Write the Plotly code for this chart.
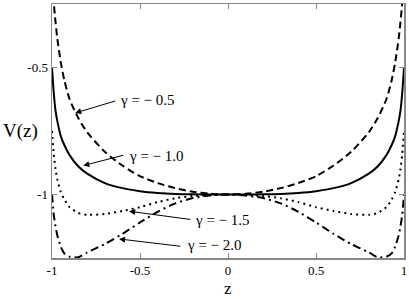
import plotly.graph_objects as go

# z grid
z = [-1, -0.99, -0.98, -0.97, -0.95, -0.93, -0.9, -0.85, -0.8, -0.7, -0.6, -0.5,
     -0.4, -0.3, -0.2, -0.1, 0, 0.1, 0.2, 0.3, 0.4, 0.5, 0.6, 0.7, 0.8, 0.85,
     0.9, 0.93, 0.95, 0.97, 0.98, 0.99, 1]

# gamma = -0.5 (dashed)
v_g05 = [-0.13, -0.245, -0.32, -0.385, -0.48, -0.55, -0.625, -0.70, -0.755, -0.832, -0.886, -0.928,
         -0.955, -0.975, -0.989, -0.997, -1.0, -0.997, -0.989, -0.975, -0.955, -0.928, -0.886, -0.832,
         -0.755, -0.70, -0.625, -0.55, -0.48, -0.385, -0.32, -0.245, -0.13]

# gamma = -1.0 (solid)
v_g10 = [-0.5, -0.60, -0.67, -0.71, -0.77, -0.805, -0.845, -0.89, -0.918, -0.955, -0.975, -0.987,
         -0.994, -0.998, -0.9995, -1.0, -1.0, -1.0, -0.9995, -0.998, -0.994, -0.987, -0.975, -0.955,
         -0.918, -0.89, -0.845, -0.805, -0.77, -0.71, -0.67, -0.60, -0.5]

# gamma = -1.5 (dotted)
v_g15 = [-0.75, -0.84, -0.90, -0.94, -0.99, -1.02, -1.05, -1.073, -1.08, -1.077, -1.065, -1.05,
         -1.03, -1.015, -1.006, -1.002, -1.0, -1.002, -1.006, -1.015, -1.03, -1.05, -1.065, -1.077,
         -1.08, -1.073, -1.05, -1.02, -0.99, -0.94, -0.90, -0.84, -0.75]

# gamma = -2.0 (dash-dot)
v_g20 = [-1.0, -1.08, -1.125, -1.16, -1.205, -1.232, -1.245, -1.247, -1.228, -1.195, -1.155, -1.11,
         -1.068, -1.035, -1.014, -1.004, -1.0, -1.004, -1.014, -1.035, -1.068, -1.11, -1.155, -1.195,
         -1.228, -1.247, -1.245, -1.232, -1.205, -1.16, -1.125, -1.08, -1.0]

x_ticks = [-1, -0.5, 0, 0.5, 1]
x_ticktext = ["-1", "-0.5", "0", "0.5", "1"]
y_ticks = [-1, -0.5]
y_ticktext = ["-1", "-0.5"]

labels = ["γ = − 0.5", "γ = − 1.0", "γ = − 1.5", "γ = − 2.0"]

FONT = "Liberation Serif"

fig = go.Figure()
series = [(v_g05, "7px,4px"), (v_g10, "solid"), (v_g15, "2px,4px"), (v_g20, "8px,4px,2px,4px")]
for vals, dash in series:
    fig.add_trace(go.Scatter(x=z, y=vals, mode="lines",
                             line=dict(color="black", width=2, dash=dash, shape="spline", smoothing=0.6),
                             showlegend=False, hoverinfo="skip"))

# arrows: (head x, head y, tail x, tail y, text x, text y)
arrows = [(-0.868, -0.679, -0.632, -0.630, -0.46, -0.626),
          (-0.822, -0.886, -0.585, -0.844, -0.404, -0.848),
          (-0.562, -1.066, -0.2055, -1.099, -0.03, -1.101),
          (-0.619, -1.175, -0.262, -1.2045, -0.075, -1.199)]
for (hx, hy, tx, ty, lx, ly), lab in zip(arrows, labels):
    fig.add_annotation(x=hx, y=hy, ax=tx, ay=ty, xref="x", yref="y", axref="x", ayref="y",
                       text="", showarrow=True, arrowhead=2, arrowsize=1.2, arrowwidth=1,
                       arrowcolor="black", standoff=0, startstandoff=0)
    fig.add_annotation(x=lx, y=ly, xref="x", yref="y", text=lab, showarrow=False,
                       xanchor="center", yanchor="middle",
                       font=dict(family=FONT, size=15, color="black"))

fig.add_annotation(x=-0.09, y=-0.751, xref="paper", yref="y", text="V(z)", showarrow=False,
                   xanchor="center", yanchor="middle",
                   font=dict(family=FONT, size=19, color="black"))
fig.add_annotation(x=0.5, y=-0.121, xref="paper", yref="paper", text="z", showarrow=False,
                   xanchor="center", yanchor="middle",
                   font=dict(family=FONT, size=17, color="black"))

axis_common = dict(showline=True, linecolor="#888888", linewidth=1.5, mirror="ticks",
                   ticks="inside", ticklen=5, tickcolor="#888888", tickwidth=1,
                   showgrid=False, zeroline=False,
                   tickfont=dict(family=FONT, size=13, color="black"))
fig.update_xaxes(range=[-1, 1], tickvals=x_ticks, ticktext=x_ticktext, **axis_common)
fig.update_yaxes(range=[-1.25, -0.25], tickvals=y_ticks, ticktext=y_ticktext, **axis_common)

fig.update_layout(width=409, height=299, margin=dict(l=52, r=4, t=2, b=41),
                  plot_bgcolor="white", paper_bgcolor="white")

fig.write_html("out.html", config={"displayModeBar": False, "staticPlot": True},
               post_script="document.body.style.margin='0';document.body.style.overflow='hidden';")
